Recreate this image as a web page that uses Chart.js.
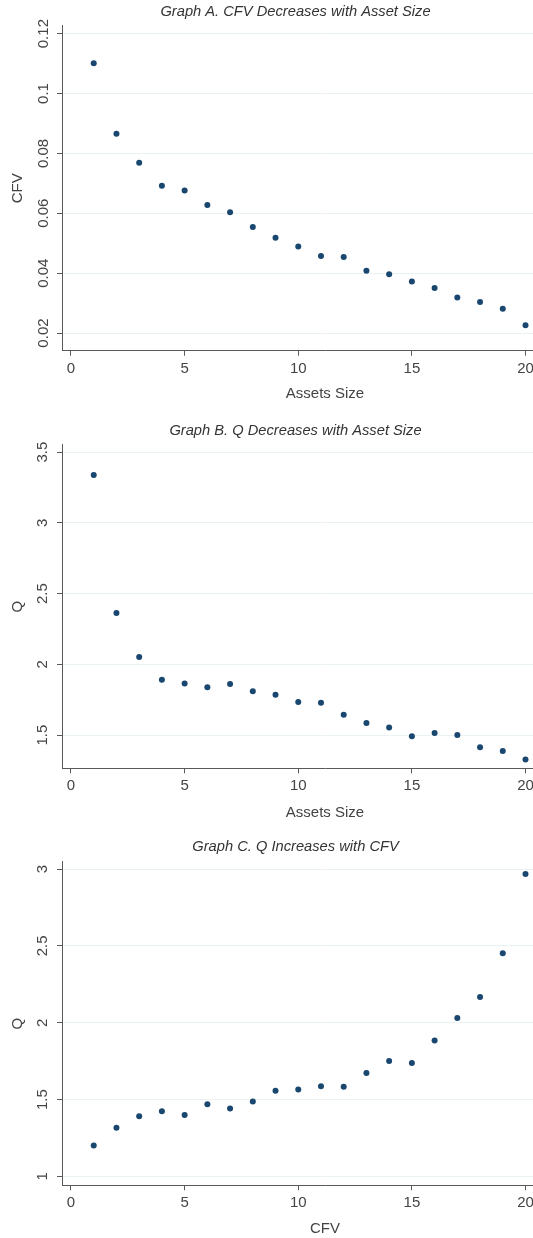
<!DOCTYPE html>
<html>
<head>
<meta charset="utf-8">
<script src="https://cdn.jsdelivr.net/npm/chart.js@4.4.1/dist/chart.umd.min.js"></script>
<style>
html,body{margin:0;padding:0;background:#fff;overflow:hidden;width:533px;height:1238px;position:relative;}
.box{position:absolute;left:0;width:591px;}
</style>
</head>
<body>
<div class="box" style="top:0;height:415px"><canvas id="chartA"></canvas></div>
<div class="box" style="top:415px;height:415px"><canvas id="chartB"></canvas></div>
<div class="box" style="top:830px;height:408px"><canvas id="chartC"></canvas></div>
<script>
// groups on the x axis (asset size groups, CFV groups)
const assetSize = [1,2,3,4,5,6,7,8,9,10,11,12,13,14,15,16,17,18,19,20];
const cfvGroup  = [1,2,3,4,5,6,7,8,9,10,11,12,13,14,15,16,17,18,19,20];

// values
const cfvByAsset = [0.1101,0.0866,0.0769,0.0692,0.0676,0.0628,0.0603,0.0554,0.0518,0.0489,
                    0.0457,0.0454,0.0408,0.0396,0.0372,0.0350,0.0319,0.0304,0.0281,0.0226];
const qByAsset = [3.338,2.363,2.052,1.890,1.864,1.838,1.860,1.810,1.784,1.733,
                  1.728,1.643,1.585,1.554,1.491,1.514,1.500,1.413,1.387,1.328];
const qByCfv = [1.201,1.316,1.392,1.424,1.400,1.470,1.442,1.487,1.558,1.565,
                1.587,1.584,1.673,1.751,1.738,1.885,2.030,2.167,2.452,2.968];

// tick labels
const xTicks  = [0,5,10,15,20];
const yTicksA = [0.02,0.04,0.06,0.08,0.1,0.12];
const yTicksB = [1.5,2,2.5,3,3.5];
const yTicksC = [1,1.5,2,2.5,3];

Chart.defaults.font.family = '"Liberation Sans", Arial, sans-serif';
Chart.defaults.color = '#444';
Chart.defaults.animation = false;

const navy = '#1a476f';
const gridCol = '#eaf2f3';
const axisCol = '#595959';

function scatter(id, o){
  return new Chart(document.getElementById(id), {
    type: 'scatter',
    data: {
      datasets: [{
        data: o.xs.map((x,i)=>({x, y:o.ys[i]})),
        backgroundColor: navy, borderWidth: 0,
        pointRadius: 3, pointHoverRadius: 3
      }]
    },
    options: {
      responsive: true, maintainAspectRatio: false, animation: false,
      layout: { padding: 0 },
      plugins: {
        legend: { display: false },
        tooltip: { enabled: false },
        title: { display: true, text: o.title, color: '#333',
                 font: { size: 14.7, style: 'italic', weight: 'normal' }, padding: o.titlePad }
      },
      scales: {
        x: {
          type: 'linear', min: -0.396, max: 22.75,
          afterBuildTicks: s => { s.ticks = xTicks.map(v=>({value:v})); },
          afterFit: s => { s.height = o.xHeight; },
          grid: { drawOnChartArea: false, drawTicks: true, tickLength: 5, tickColor: axisCol },
          border: { color: axisCol, width: 1 },
          ticks: { font: { size: 15 }, padding: 4, maxRotation: 0, callback: v => String(v) },
          title: { display: true, text: o.xTitle, font: { size: 15 }, padding: { top: 0, bottom: o.xTitlePad } }
        },
        y: {
          type: 'linear', min: o.yMin, max: o.yMax,
          afterBuildTicks: s => { s.ticks = o.yTicks.map(v=>({value:v})); },
          afterFit: s => { s.width = 62; },
          grid: { color: gridCol, lineWidth: 1, tickColor: axisCol, tickLength: 5 },
          border: { color: axisCol, width: 1 },
          ticks: { font: { size: 15 }, minRotation: 90, maxRotation: 90, crossAlign: 'center',
                   padding: o.yTickPad, callback: v => String(v) },
          title: { display: true, text: o.yTitle, font: { size: 15 }, padding: { top: 8.5, bottom: 0 } }
        }
      }
    }
  });
}

scatter('chartA', {
  title: 'Graph A. CFV Decreases with Asset Size', titlePad: { top: 3.3, bottom: 4.9 },
  xs: assetSize, ys: cfvByAsset, xTitle: 'Assets Size', yTitle: 'CFV',
  yMin: 0.0141, yMax: 0.1226, yTicks: yTicksA,
  xHeight: 64.3, xTitlePad: 12, yTickPad: -1
});
scatter('chartB', {
  title: 'Graph B. Q Decreases with Asset Size', titlePad: { top: 6.6, bottom: 5.6 },
  xs: assetSize, ys: qByAsset, xTitle: 'Assets Size', yTitle: 'Q',
  yMin: 1.265, yMax: 3.551, yTicks: yTicksB,
  xHeight: 61.7, xTitlePad: 8, yTickPad: 3.3
});
scatter('chartC', {
  title: 'Graph C. Q Increases with CFV', titlePad: { top: 8.3, bottom: 5.9 },
  xs: cfvGroup, ys: qByCfv, xTitle: 'CFV', yTitle: 'Q',
  yMin: 0.942, yMax: 3.047, yTicks: yTicksC,
  xHeight: 52.7, xTitlePad: 0, yTickPad: 3.3
});
</script>
</body>
</html>
